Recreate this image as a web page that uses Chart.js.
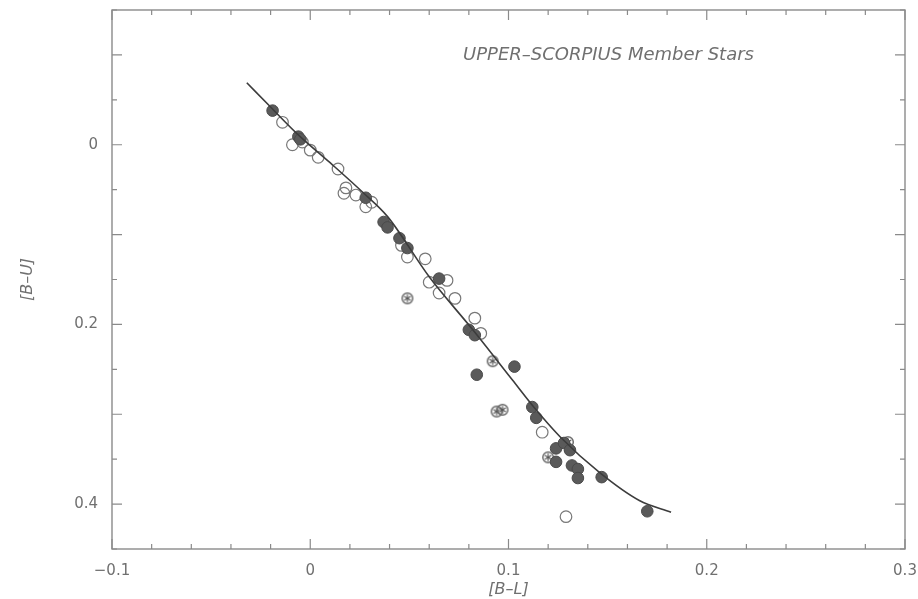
<!DOCTYPE html>
<html>
<head>
<meta charset="utf-8">
<script src="https://cdn.jsdelivr.net/npm/chart.js@4/dist/chart.umd.min.js"></script>
<style>
  html, body { margin: 0; padding: 0; background: #fff; }
  #wrap { width: 918px; height: 599px; }
</style>
</head>
<body>
<div id="wrap"><canvas id="ubvChart"></canvas></div>
<script>
// ---- data ([B-L], [B-U]) ----
var curveX  = [-0.032, -0.020, -0.007, 0.010, 0.027, 0.039, 0.060, 0.082, 0.102, 0.112, 0.126, 0.146, 0.166, 0.182];
var curveY  = [-0.069, -0.042, -0.013, 0.020, 0.054, 0.080, 0.147, 0.206, 0.262, 0.290, 0.325, 0.365, 0.396, 0.409];

var filledX = [-0.019, -0.006, -0.005, 0.028, 0.037, 0.039, 0.045, 0.049, 0.065, 0.080, 0.083, 0.103, 0.084, 0.112, 0.114, 0.124, 0.128, 0.131, 0.124, 0.132, 0.135, 0.135, 0.147, 0.170];
var filledY = [-0.038, -0.009, -0.006, 0.059, 0.086, 0.092, 0.104, 0.115, 0.149, 0.206, 0.212, 0.247, 0.256, 0.292, 0.304, 0.338, 0.332, 0.340, 0.353, 0.357, 0.361, 0.371, 0.370, 0.408];

var openX   = [-0.014, -0.009, -0.004, 0.000, 0.004, 0.014, 0.018, 0.017, 0.023, 0.031, 0.028, 0.046, 0.049, 0.058, 0.060, 0.069, 0.065, 0.073, 0.083, 0.086, 0.117, 0.129];
var openY   = [-0.025, 0.000, -0.003, 0.006, 0.014, 0.027, 0.048, 0.054, 0.056, 0.064, 0.069, 0.112, 0.125, 0.127, 0.153, 0.151, 0.165, 0.171, 0.193, 0.210, 0.320, 0.414];

var starX   = [0.049, 0.092, 0.094, 0.097, 0.120, 0.130];
var starY   = [0.171, 0.241, 0.297, 0.295, 0.348, 0.331];

var xTickLabels = ["\u22120.1", "0", "0.1", "0.2", "0.3"];
var yTickLabels = ["0", "0.2", "0.4"];

// ---- styling ----
var inkAxis  = "#8a8a8a";
var inkText  = "#707070";
var inkCurve = "#3c3c3c";
var inkFill  = "#5a5a5a";
var inkOpen  = "#787878";

function pts(xs, ys) {
  return xs.map(function (v, i) { return { x: v, y: ys[i] }; });
}

// open circle with a small asterisk inside
function starMarker() {
  var c = document.createElement("canvas");
  c.width = 14; c.height = 14;
  var g = c.getContext("2d");
  g.strokeStyle = "#626262";
  g.lineWidth = 1.4;
  g.beginPath(); g.arc(7, 7, 5.3, 0, Math.PI * 2); g.stroke();
  g.strokeStyle = "#555555";
  g.lineWidth = 1.2;
  for (var k = 0; k < 3; k++) {
    var a = k * Math.PI / 3 + Math.PI / 2;
    g.beginPath();
    g.moveTo(7 - 3.8 * Math.cos(a), 7 - 3.8 * Math.sin(a));
    g.lineTo(7 + 3.8 * Math.cos(a), 7 + 3.8 * Math.sin(a));
    g.stroke();
  }
  return c;
}

function nearMultiple(v, step) {
  var q = v / step;
  return Math.abs(q - Math.round(q)) < 1e-6;
}

// frame + inward tick marks on all four sides, plus the in-plot caption
var frameTicks = {
  id: "frameTicks",
  afterDraw: function (chart) {
    var ctx = chart.ctx, a = chart.chartArea;
    var xs = chart.scales.x, ys = chart.scales.y;
    ctx.save();
    ctx.strokeStyle = inkAxis;
    ctx.lineWidth = 1.4;
    ctx.strokeRect(a.left, a.top, a.right - a.left, a.bottom - a.top);
    ctx.lineWidth = 1.2;
    ctx.beginPath();
    xs.ticks.forEach(function (t) {
      var px = xs.getPixelForValue(t.value);
      var len = nearMultiple(t.value, 0.1) ? 10 : 5;
      ctx.moveTo(px, a.bottom); ctx.lineTo(px, a.bottom - len);
      ctx.moveTo(px, a.top);    ctx.lineTo(px, a.top + len);
    });
    ys.ticks.forEach(function (t) {
      var py = ys.getPixelForValue(t.value);
      var len = nearMultiple(t.value, 0.1) ? 10 : 5;
      ctx.moveTo(a.left, py);  ctx.lineTo(a.left + len, py);
      ctx.moveTo(a.right, py); ctx.lineTo(a.right - len, py);
    });
    ctx.stroke();

    ctx.fillStyle = inkText;
    ctx.font = "italic 18px 'DejaVu Sans'";
    ctx.textBaseline = "middle";
    ctx.textAlign = "left";
    ctx.fillText("UPPER\u2013SCORPIUS Member Stars", 463, 55);
    ctx.restore();
  }
};

var tickFont = { family: "DejaVu Sans", size: 15 };

new Chart(document.getElementById("ubvChart"), {
  type: "scatter",
  data: {
    datasets: [
      {
        type: "line",
        label: "sequence",
        data: pts(curveX, curveY),
        borderColor: inkCurve,
        borderWidth: 1.6,
        pointRadius: 0,
        fill: false,
        cubicInterpolationMode: "monotone",
        order: 0
      },
      {
        label: "filled",
        data: pts(filledX, filledY),
        pointRadius: 5.8,
        backgroundColor: inkFill,
        borderColor: "#4a4a4a",
        borderWidth: 1,
        order: 1
      },
      {
        label: "open",
        data: pts(openX, openY),
        pointRadius: 5.8,
        backgroundColor: "rgba(255,255,255,0)",
        borderColor: inkOpen,
        borderWidth: 1.2,
        order: 2
      },
      {
        label: "star",
        data: pts(starX, starY),
        pointStyle: starMarker(),
        order: 3
      }
    ]
  },
  options: {
    responsive: true,
    maintainAspectRatio: false,
    animation: false,
    layout: { padding: { left: 0, right: 13, top: 10, bottom: 0 } },
    plugins: {
      legend: { display: false },
      tooltip: { enabled: false }
    },
    scales: {
      x: {
        type: "linear",
        min: -0.1,
        max: 0.3,
        grid: { display: false, drawTicks: false },
        border: { display: false },
        ticks: {
          stepSize: 0.02,
          autoSkip: false,
          maxRotation: 0,
          padding: 13,
          color: inkText,
          font: tickFont,
          callback: function (v) {
            if (!nearMultiple(v, 0.1)) return "";
            return xTickLabels[Math.round((v + 0.1) / 0.1)];
          }
        },
        title: {
          display: true,
          text: "[B\u2013L]",
          color: inkText,
          font: { family: "DejaVu Sans", size: 16, style: "italic" },
          padding: { top: 0, bottom: 0 }
        },
        afterFit: function (s) {
          s.height = 50;
          s.paddingLeft = 0; s.paddingRight = 0;
        }
      },
      y: {
        type: "linear",
        reverse: true,
        min: -0.15,
        max: 0.45,
        grid: { display: false, drawTicks: false },
        border: { display: false },
        ticks: {
          stepSize: 0.05,
          autoSkip: false,
          padding: 14,
          color: inkText,
          font: tickFont,
          callback: function (v) {
            if (v < -1e-6 || !nearMultiple(v, 0.2)) return "";
            return yTickLabels[Math.round(v / 0.2)];
          }
        },
        title: {
          display: true,
          text: "[B\u2013U]",
          color: inkText,
          font: { family: "DejaVu Sans", size: 16, style: "italic" },
          padding: { top: 18, bottom: 0 }
        },
        afterFit: function (s) {
          s.width = 112;
          s.paddingTop = 0; s.paddingBottom = 0;
        }
      }
    }
  },
  plugins: [frameTicks]
});
</script>
</body>
</html>
